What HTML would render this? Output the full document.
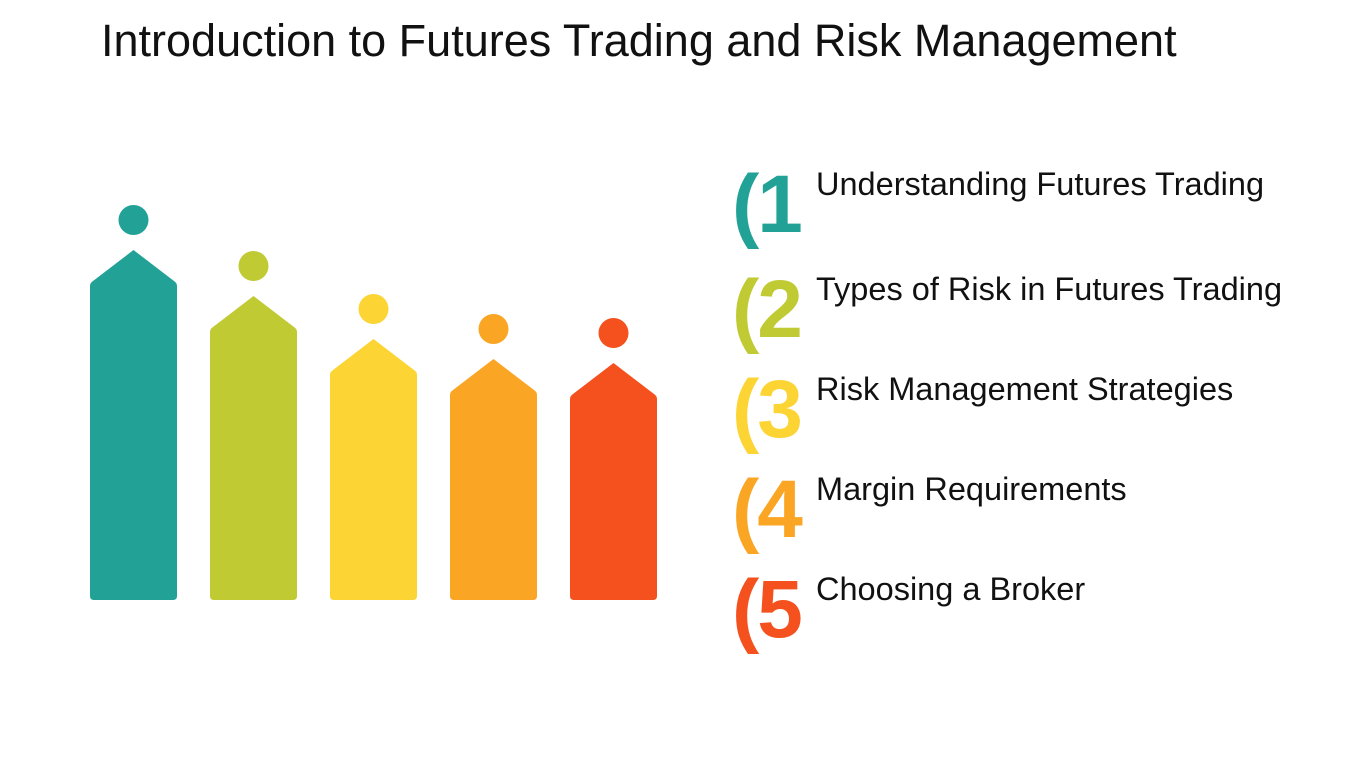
<!DOCTYPE html>
<html><head><meta charset="utf-8"><style>
body{margin:0;width:1350px;height:759px;background:#fff;overflow:hidden;font-family:"Liberation Sans",sans-serif;position:relative}
#title{position:absolute;left:101px;top:15px;font-size:45px;color:#111;white-space:nowrap}
.item{position:absolute;left:732px;height:90px;width:610px}
.num{position:absolute;left:0;top:-8px;font-size:82px;font-weight:bold;font-family:"Liberation Sans Narrow","Liberation Sans",sans-serif;letter-spacing:-2px}
.lbl{position:absolute;left:84px;top:0px;font-size:32.5px;color:#111;white-space:nowrap}
</style></head><body>
<div id="title">Introduction to Futures Trading and Risk Management</div>
<svg id="chart" width="700" height="759" style="position:absolute;left:0;top:0"></svg>
<div class="item" style="top:166px"><span class="num" style="color:#22a296">(1</span><span class="lbl">Understanding Futures Trading</span></div>
<div class="item" style="top:271px"><span class="num" style="color:#c0ca32">(2</span><span class="lbl">Types of Risk in Futures Trading</span></div>
<div class="item" style="top:371px"><span class="num" style="color:#fcd433">(3</span><span class="lbl">Risk Management Strategies</span></div>
<div class="item" style="top:471px"><span class="num" style="color:#fba524">(4</span><span class="lbl">Margin Requirements</span></div>
<div class="item" style="top:571px"><span class="num" style="color:#f4511e">(5</span><span class="lbl">Choosing a Broker</span></div>
<script>
const categories=["Understanding Futures Trading","Types of Risk in Futures Trading","Risk Management Strategies","Margin Requirements","Choosing a Broker"];
const values=[350,304,261,241,237];
const colors=["#22a296","#c0ca32","#fcd433","#fba524","#f4511e"];
const svg=document.getElementById('chart');
const NS="http://www.w3.org/2000/svg";
const baseY=600, x0=90, step=120, w=87, pt=30;
function y(v){return baseY-v;}
function xl(i){return x0+i*step;}
values.forEach((v,i)=>{
  const L=xl(i),R=L+w,C=L+w/2,T=y(v),S=T+pt;
  const p=document.createElementNS(NS,'path');
  p.setAttribute('d',`M${L+3},${S+1} L${C},${T} L${R-3},${S+1} Q${R},${S+3} ${R},${S+6} L${R},${baseY-4} Q${R},${baseY} ${R-4},${baseY} L${L+4},${baseY} Q${L},${baseY} ${L},${baseY-4} L${L},${S+6} Q${L},${S+3} ${L+3},${S+1} Z`);
  p.setAttribute('fill',colors[i]);
  
  
  svg.appendChild(p);
  const c=document.createElementNS(NS,'circle');
  c.setAttribute('cx',C);c.setAttribute('cy',T-30);c.setAttribute('r',15);
  c.setAttribute('fill',colors[i]);
  
  
  svg.appendChild(c);
});
</script>
</body></html>
